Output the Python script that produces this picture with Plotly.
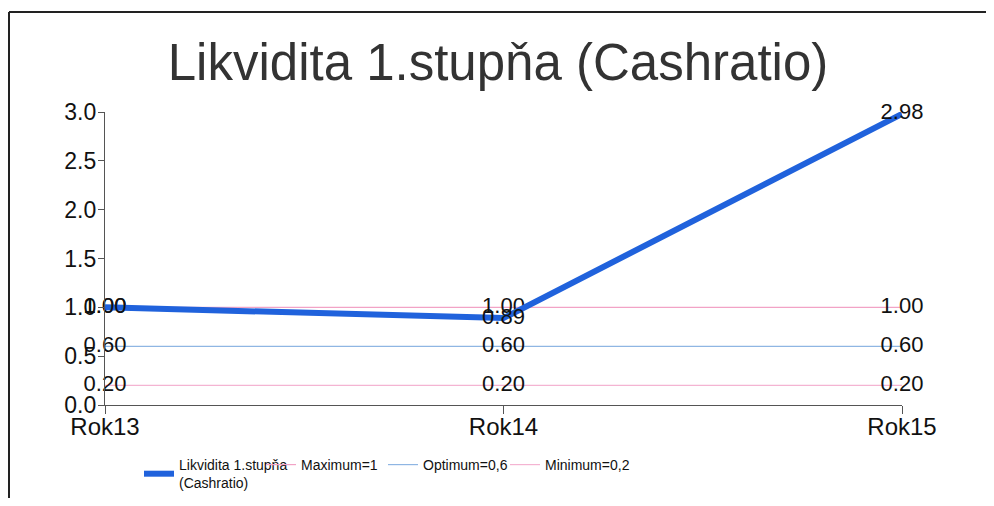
import plotly.graph_objects as go

categories = ["Rok13", "Rok14", "Rok15"]
cash_ratio = [1.00, 0.89, 2.98]
maximum = [1.00, 1.00, 1.00]
optimum = [0.60, 0.60, 0.60]
minimum = [0.20, 0.20, 0.20]

names = ["Likvidita 1.stupňa<br>(Cashratio)", "Maximum=1", "Optimum=0,6", "Minimum=0,2"]
title = "Likvidita 1.stupňa (Cashratio)"

OFF = 8  # page body margin on every side
W, H = 994 - 2 * OFF, 506 - 2 * OFF
L, R, T, B = 105 - OFF, 902 - OFF, 112 - OFF, 405 - OFF
def px(x): return (x - OFF - L) / (R - L)
def py(y): return (B - (y - OFF)) / (B - T)

xs = list(range(len(categories)))
font = "Liberation Sans, Arial, sans-serif"
lab = dict(size=22, color="#111111", family=font)

fig = go.Figure()
for vals, nm, col, rank in [(maximum, names[1], "#f2a3c6", 2),
                            (optimum, names[2], "#8fb6e3", 3),
                            (minimum, names[3], "#f4b4d2", 4)]:
    fig.add_trace(go.Scatter(x=xs, y=vals, mode="lines+text", name=nm,
                             line=dict(color=col, width=1.2),
                             text=[f"{v:.2f}" for v in vals], textposition="middle center",
                             textfont=lab, cliponaxis=False, legendrank=rank))
fig.add_trace(go.Scatter(x=xs, y=cash_ratio, mode="lines+text", name=names[0],
                         line=dict(color="#2062dc", width=6),
                         text=[f"{v:.2f}" for v in cash_ratio], textposition="middle center",
                         textfont=lab, cliponaxis=False, legendrank=1))
# empty legend spacer so the last legend label is not clipped
fig.add_trace(go.Scatter(x=[None], y=[None], mode="lines", name=" ",
                         line=dict(color="rgba(0,0,0,0)"), legendrank=5,
                         hoverinfo="skip"))

fig.update_layout(
    width=W, height=H,
    margin=dict(l=L, r=W - R, t=T, b=H - B, autoexpand=False),
    paper_bgcolor="white", plot_bgcolor="white",
    font=dict(family=font, color="#111111"),
    title=dict(text=title, x=px(498), xref="paper", xanchor="center",
               y=1 - (62 - OFF) / H, yref="container", yanchor="middle",
               font=dict(size=51, color="#333333", family=font)),
    showlegend=True,
    legend=dict(orientation="h", x=px(139), xanchor="left", y=py(449), yanchor="top",
                font=dict(size=14, color="#111111", family=font),
                entrywidth=77, entrywidthmode="pixels", itemwidth=30,
                bgcolor="rgba(0,0,0,0)"),
    xaxis=dict(range=[0, 2], tickvals=xs, ticktext=categories, showgrid=False,
               zeroline=False, showline=True, linecolor="#555555", linewidth=1.2,
               ticks="outside", ticklen=8, tickcolor="#555555", automargin=False,
               ticklabelstandoff=-8,
               tickfont=dict(size=24, color="#111111", family=font)),
    yaxis=dict(range=[0, 3], dtick=0.5, tick0=0, tickformat=".1f", showgrid=False,
               zeroline=False, showline=True, linecolor="#555555", linewidth=1.2,
               ticks="outside", ticklen=6, tickcolor="#555555", automargin=False,
               ticklabelstandoff=-3,
               tickfont=dict(size=23, color="#111111", family=font)),
    shapes=[
        dict(type="line", xref="paper", yref="paper", x0=px(9), x1=px(9),
             y0=py(12), y1=py(506), line=dict(color="#222222", width=2)),
        dict(type="line", xref="paper", yref="paper", x0=px(9), x1=px(994),
             y0=py(12), y1=py(12), line=dict(color="#222222", width=2)),
    ],
)

fig.write_html("out.html")
